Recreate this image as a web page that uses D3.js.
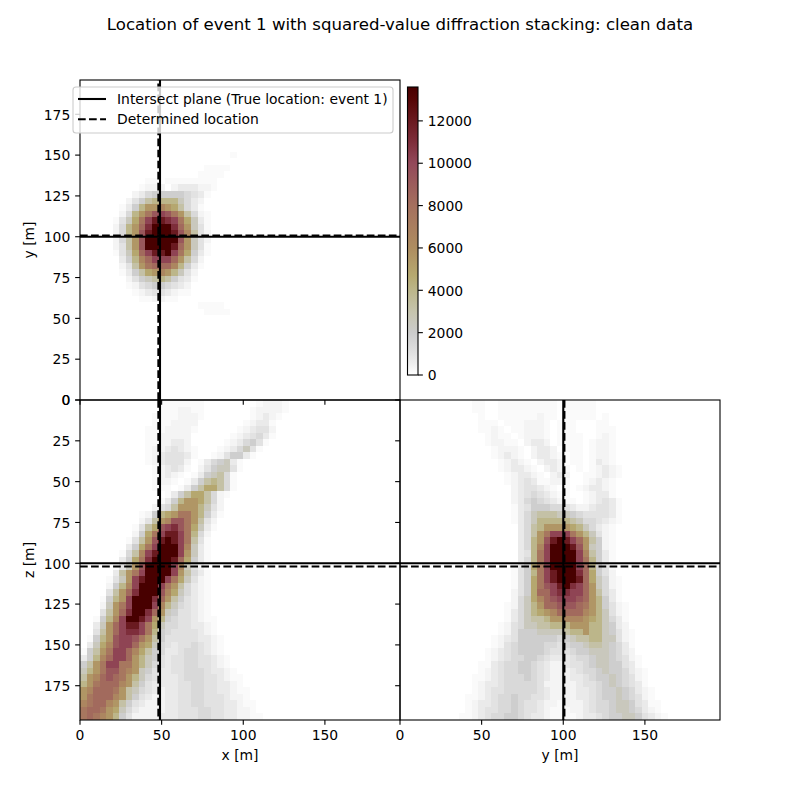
<!DOCTYPE html>
<html>
<head>
<meta charset="utf-8">
<script src="https://cdn.jsdelivr.net/npm/d3@7"></script>
<style>
  body { margin: 0; background: #fff; }
  text { font-family: "DejaVu Sans", sans-serif; fill: #000; }
</style>
</head>
<body>
<div id="chart"></div>
<script>
// stack values, one char per cell, index into stack_levels
var level_codes = ".123456789abcdefghij";
var stack_levels = [0, 150, 350, 700, 1000, 1400, 1900, 2500, 3200, 4000, 4800, 5600, 6500, 7500, 8300, 9300, 10200, 11000, 12000, 13600];

var cell_size = 4; // metres
var grid_max = 196;

var ticks_xy = [0, 50, 100, 150];
var ticks_y = [0, 25, 50, 75, 100, 125, 150, 175];
var ticks_cbar = [0, 2000, 4000, 6000, 8000, 10000, 12000];

var cmap_values = [0, 500, 1000, 2000, 3000, 4000, 4700, 6000, 8000, 10000, 11000, 12000, 13000, 13600];
var cmap_colors = ["#ffffff", "#efefef", "#e2e2e2", "#cccccc", "#c6c4ad", "#bcb68a", "#b6a970", "#ae8d60", "#a5705e", "#93495a", "#7e2e3b", "#6a1a20", "#560606", "#480000"];

// true and determined location
var true_loc = { x: 49, y: 100, z: 100 };
var det_loc = { x: 48, y: 100.7, z: 102 };

// x-y slice, first string is the top row (largest y)
var rows_xy = [
"","","","","","","","","","","",
".......................1",
"",
"...................1111",
"..................1111",
"..........11.11111111",
".........1222.2333221",
"........235666665431",
".......246899997532",
"......1369bbcba8531",
"......259bdfgfdb8521",
".....147adgiihgda731",
".....259behjjjheb741",
".....259bfijjjifc842",
".....258bfjjjjjfb742",
".....248bfjjjjieb741",
".....147aegiijgda631",
"......369cegggeb852",
"......248bdeeec9631",
"......1368abcb9742",
".......24678986431",
".......1245665432",
"........123443211",
".........112211",
"..................1111",
"...................1111"
];

// x-z slice, first string is z = 0
var rows_xz = [
"............1111111........12221",
"............1112211.......122221",
"...........11112221.......12321",
"...........1112222.......12331",
"..........11122221......123442",
"..........1122222......1234531",
"..........1122332.....1235641",
"..........12234321...1235741",
"..........12344431..1246631",
"..........1234442.1356731",
"...........123431.2467741",
"...........12321.1367851",
"...........1221.13689851",
"...........111.1368aa851",
".............1368aa8521",
"............1369bba852",
"...........2458bbb9742",
".........1269abddb9631",
".........248bcffdb842",
"........148afghfda731",
"........26adgiigd952",
".......148bfijigd841",
".......36adgjjjgc731",
"......158cgijjjgb731",
"......36adhjjjiea631",
".....147bfjjjjgc742",
".....38bdgjjjjgb8531",
"....147bgijjjgda7421",
"....269cgjjjgdb85321",
"....48behjjjfca75321",
"...169bgjjjheb864321",
"...27bdgjjjgc9754321",
"...48behjjheb7644321",
"..169cgjjigb965443211",
"..37begiigda755443321",
"..48beghhgd9654444321",
".169bfggfdb86444443321",
".37acfggeba75434454321",
"168bdggeca865334554321",
"369ceggeb97643445544321",
"68bdggddb97543445544321",
"79bdffdcb764334455543321",
"8bcefedb97543334555443211",
"9bdeeecb86433334455443321",
"bceeedb8754323344554433211",
"bdeeecb8643223344554443221",
"cdeecb864322233445544433211",
"deedba753222233444554433221",
"dedcb96422223334445544332211"
];

// y-z slice, first string is z = 0
var rows_yz = [
"...........11..111111111.11111",
"...........11..111111111.11111",
"............1..111111211.11111.1",
"............111.1112221.111...11",
"............1121.112221.111...111",
".............1211.12221.1111..121",
".............12211.2332.1111.1221",
"..............12221.2332.111.1221",
"..............12321.23321.11.1221",
"...............12321.2332.11.1321",
"...............123321.2321.1.12321",
"................123321.232..112321",
"................1234311221..12321",
".................2344321.1.123321",
".................234543211..12331",
".................2356543211.123431",
".................13466655432234431",
".................13578887765444431",
".................13579999987554321",
"..................3589bbbba975321",
"..................358bdgggdb97421",
"..................359bfijigeb8621",
"..................359cgjjjifb7621",
"..................349dgjjjjgc8631",
"..................359dgjjjjgd9631",
".................146adgjjjjge9641",
".................1469dgijjjhea642",
".................146adgijjjiea7521",
".................146adfgijhgeb7521",
".................246aeeghhggeb8531",
".................257acefgggfeb9631",
"................12579beefffedb96421",
"................13579abceeeecb97421",
"................1357889bbcccba97531",
"...............12457788999bbb997632",
"...............1246667777899b9976421",
"..............1234666666567889977421",
"..............1245666655456678876531",
".............12345666654445667776532",
".............123455665433345567765421",
"............1134556654322344567766431",
"............12345566543222345567665321",
"...........112345556543222334566765421",
"...........123345555542222234456765431",
"...........1234455555432222334566765321",
"..........11234556554432222334566765421",
"..........123345565443221222345567764311",
"..........123445565443211122345567765321",
".........11234556654332111123345667764321"
];

var svg = d3.select("#chart").append("svg")
    .attr("width", 800)
    .attr("height", 800);

var color = d3.scaleLinear().domain(cmap_values).range(cmap_colors).interpolate(d3.interpolateRgb);

var tick_len = 4.86;
var tick_pad = 4.86;
var font_size = 13.9;

var x_left = d3.scaleLinear().domain([0, grid_max]).range([80, 400]);
var x_right = d3.scaleLinear().domain([0, grid_max]).range([400, 720]);
var y_up = d3.scaleLinear().domain([0, grid_max]).range([400, 80]);
var z_down = d3.scaleLinear().domain([0, grid_max]).range([400, 720]);

function _cells(rows) {
    var data = [];
    rows.forEach(function (row, r) {
        for (var c = 0; c < row.length; c++) {
            data.push({ c: c, r: r, value: stack_levels[level_codes.indexOf(row[c])] });
        }
    });
    return data;
}

function drawHeat(rows, xs, row_edge) {
    svg.append("g")
        .selectAll("rect")
        .data(_cells(rows).filter(function (d) { return d.value > 0; }))
        .enter().append("rect")
        .attr("x", function (d) { return Math.round(xs(d.c * cell_size)); })
        .attr("width", function (d) { return Math.round(xs((d.c + 1) * cell_size)) - Math.round(xs(d.c * cell_size)); })
        .attr("y", function (d) { return row_edge(d.r); })
        .attr("height", function (d) { return row_edge(d.r + 1) - row_edge(d.r); })
        .attr("shape-rendering", "crispEdges")
        .style("fill", function (d) { return color(d.value); });
}

function drawLines(xs, ys, x_true, x_det, y_true, y_det) {
    var g = svg.append("g").attr("fill", "none").attr("stroke", "#000").attr("stroke-width", 2.08);
    var x0 = xs.range()[0], x1 = xs.range()[1];
    var y0 = ys.range()[0], y1 = ys.range()[1];
    g.append("line").attr("x1", xs(x_true)).attr("x2", xs(x_true)).attr("y1", y0).attr("y2", y1);
    g.append("line").attr("x1", x0).attr("x2", x1).attr("y1", ys(y_true)).attr("y2", ys(y_true));
    g.append("line").attr("x1", xs(x_det)).attr("x2", xs(x_det)).attr("y1", y0).attr("y2", y1).attr("stroke-dasharray", "7.7 3.33");
    g.append("line").attr("x1", x0).attr("x2", x1).attr("y1", ys(y_det)).attr("y2", ys(y_det)).attr("stroke-dasharray", "7.7 3.33");
}

function drawAxis(axis, dx, dy) {
    var g = svg.append("g")
        .attr("transform", "translate(" + dx + "," + dy + ")")
        .call(axis.offset(0).tickSize(tick_len).tickPadding(tick_pad));
    g.select(".domain").remove();
    g.selectAll("line").attr("stroke", "#000").attr("stroke-width", 1.1);
    g.selectAll("text")
        .attr("transform", "translate(0,0.8)")
        .style("font-size", font_size + "px")
        .style("font-family", '"DejaVu Sans", sans-serif');
    return g;
}

function drawFrame(xs, ys) {
    svg.append("rect")
        .attr("x", xs.range()[0]).attr("width", xs.range()[1] - xs.range()[0])
        .attr("y", Math.min(ys.range()[0], ys.range()[1]))
        .attr("height", Math.abs(ys.range()[1] - ys.range()[0]))
        .attr("fill", "none").attr("stroke", "#000").attr("stroke-width", 1.1);
}

function label(txt, x, y, rotate) {
    svg.append("text")
        .attr("transform", "translate(" + x + "," + y + ")" + (rotate ? " rotate(-90)" : ""))
        .attr("text-anchor", "middle")
        .style("font-size", font_size + "px")
        .text(txt);
}

// heat cells: xy row r starts at the top of the panel, xz and yz rows at z = 0
drawHeat(rows_xy, x_left, function (r) { return Math.round(y_up(grid_max - r * cell_size)); });
drawHeat(rows_xz, x_left, function (r) { return Math.round(z_down(r * cell_size)); });
drawHeat(rows_yz, x_right, function (r) { return Math.round(z_down(r * cell_size)); });

drawLines(x_left, y_up, true_loc.x, det_loc.x, true_loc.y, det_loc.y);
drawLines(x_left, z_down, true_loc.x, det_loc.x, true_loc.z, det_loc.z);
drawLines(x_right, z_down, true_loc.y, det_loc.y, true_loc.z, det_loc.z);

drawFrame(x_left, y_up);
drawFrame(x_left, z_down);
drawFrame(x_right, z_down);

drawAxis(d3.axisLeft(y_up).tickValues(ticks_y), 80, 0);
drawAxis(d3.axisBottom(x_left).tickValues(ticks_xy).tickFormat(""), 0, 400);
drawAxis(d3.axisLeft(z_down).tickValues(ticks_y), 80, 0);
drawAxis(d3.axisBottom(x_left).tickValues(ticks_xy), 0, 720);
drawAxis(d3.axisLeft(z_down).tickValues(ticks_y).tickFormat(""), 400, 0);
drawAxis(d3.axisBottom(x_right).tickValues(ticks_xy), 0, 720);

label("y [m]", 34, 240, true);
label("z [m]", 34, 560, true);
label("x [m]", 240, 760, false);
label("y [m]", 560, 760, false);

svg.append("text")
    .attr("x", 400).attr("y", 30)
    .attr("text-anchor", "middle")
    .style("font-size", "16.6px")
    .text("Location of event 1 with squared-value diffraction stacking: clean data");

// legend
var legend = svg.append("g");
legend.append("rect")
    .attr("x", 73).attr("y", 87).attr("width", 320).attr("height", 46).attr("rx", 3)
    .attr("fill", "#fff").attr("fill-opacity", 0.8)
    .attr("stroke", "#ccc").attr("stroke-width", 1.1);
var legend_labels = ["Intersect plane (True location: event 1)", "Determined location"];
legend_labels.forEach(function (txt, i) {
    var ly = 99 + i * 20.3;
    legend.append("line")
        .attr("x1", 78).attr("x2", 106).attr("y1", ly).attr("y2", ly)
        .attr("stroke", "#000").attr("stroke-width", 2.08)
        .attr("stroke-dasharray", i ? "7.7 3.33" : null);
    legend.append("text")
        .attr("x", 117).attr("y", ly + 5)
        .style("font-size", font_size + "px")
        .text(txt);
});

// colorbar
var cbar_y = d3.scaleLinear().domain([0, 13600]).range([375, 87]);
var grad = svg.append("defs").append("linearGradient")
    .attr("id", "cbar").attr("x1", 0).attr("x2", 0).attr("y1", 1).attr("y2", 0);
grad.selectAll("stop")
    .data(cmap_values)
    .enter().append("stop")
    .attr("offset", function (d) { return d / 13600; })
    .attr("stop-color", function (d) { return color(d); });
svg.append("rect")
    .attr("x", 407.5).attr("y", 87).attr("width", 10.5).attr("height", 288)
    .attr("fill", "url(#cbar)")
    .attr("stroke", "#000").attr("stroke-width", 1.1);
drawAxis(d3.axisRight(cbar_y).tickValues(ticks_cbar).tickFormat(function (d) { return String(d); }), 418, 0);
</script>
</body>
</html>
